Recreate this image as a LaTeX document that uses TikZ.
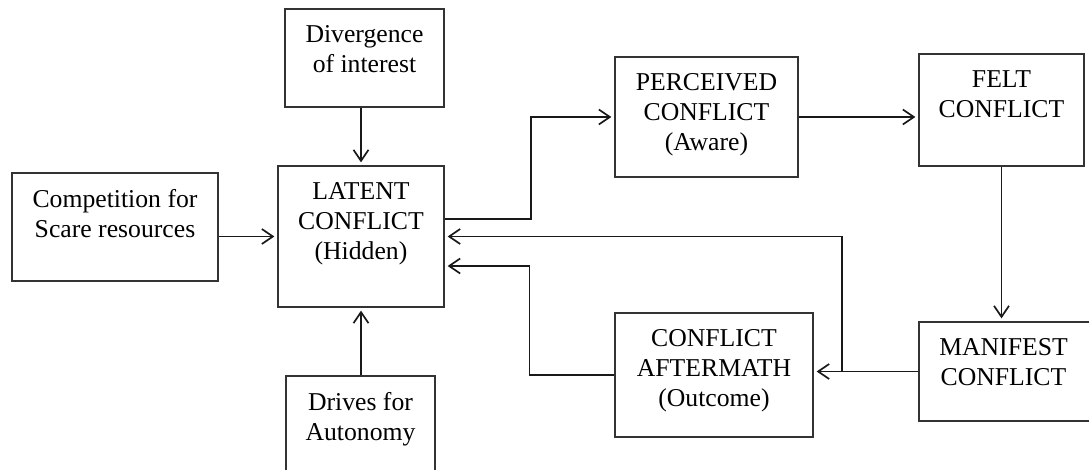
\documentclass[tikz,border=0pt]{standalone}
\usepackage{fontspec}
\setmainfont{Liberation Serif}
\usetikzlibrary{arrows.meta}
\newcommand{\diagfont}{\fontsize{25.7}{30}\selectfont}
\tikzset{
  box/.style={draw=black!80,line width=1.3pt,inner sep=0pt},
  lbl/.style={anchor=north,yshift=-17pt,align=center,inner sep=0pt,font=\diagfont},
  arr/.style={draw=black!90,line width=1.7pt,shorten >=3pt,
    -{Straight Barb[length=11pt,width=15pt,line width=1.7pt]}}
}
\begin{document}
\begin{tikzpicture}[x=1pt,y=-1pt]
\useasboundingbox (0,0) rectangle (1089,470);
\clip (0,0) rectangle (1089,470);
% boxes
\node[box,minimum width=206pt,minimum height=108pt,label={[lbl]north:{Competition for\\Scare resources}}] (comp) at (115,227) {};
\node[box,minimum width=159pt,minimum height=98pt,label={[lbl]north:{Divergence\\of interest}}] (diverg) at (364.5,58) {};
\node[box,minimum width=166pt,minimum height=141pt,label={[lbl]north:{LATENT\\CONFLICT\\(Hidden)}}] (latent) at (361,236.5) {};
\node[box,minimum width=149pt,minimum height=110pt,label={[lbl]north:{Drives for\\Autonomy}}] (drives) at (360.5,431) {};
\node[box,minimum width=183pt,minimum height=120pt,label={[lbl]north:{PERCEIVED\\CONFLICT\\(Aware)}}] (perc) at (706.5,117) {};
\node[box,minimum width=165pt,minimum height=112pt,label={[lbl]north:{FELT\\CONFLICT}}] (felt) at (1001.5,110) {};
\node[box,minimum width=200pt,minimum height=99pt,label={[lbl,xshift=-15.5pt]north:{MANIFEST\\CONFLICT}}] (manif) at (1019,371.5) {};
\node[box,minimum width=198pt,minimum height=124pt,label={[lbl]north:{CONFLICT\\AFTERMATH\\(Outcome)}}] (after) at (714,375) {};
% connectors
\draw[arr] (comp.east |- latent.west) -- (latent.west);
\draw[arr] (latent.north |- diverg.south) -- (latent.north);
\draw[arr] (latent.south |- drives.north) -- (latent.south);
\draw[arr] ([yshift=17.5pt]latent.east) -- ++(86,0) |- (perc.west);
\draw[arr] (perc.east) -- (perc.east -| felt.west);
\draw[arr] (felt.south) -- (felt.south |- manif.north);
\draw[arr] (manif.west) -- (manif.west -| after.east);
\draw[arr] ([xshift=28pt]after.east |- manif.west) |- (latent.east);
\draw[arr] (after.west) -- ++(-85,0) |- ([yshift=-29.5pt]latent.east);
\end{tikzpicture}
\end{document}
